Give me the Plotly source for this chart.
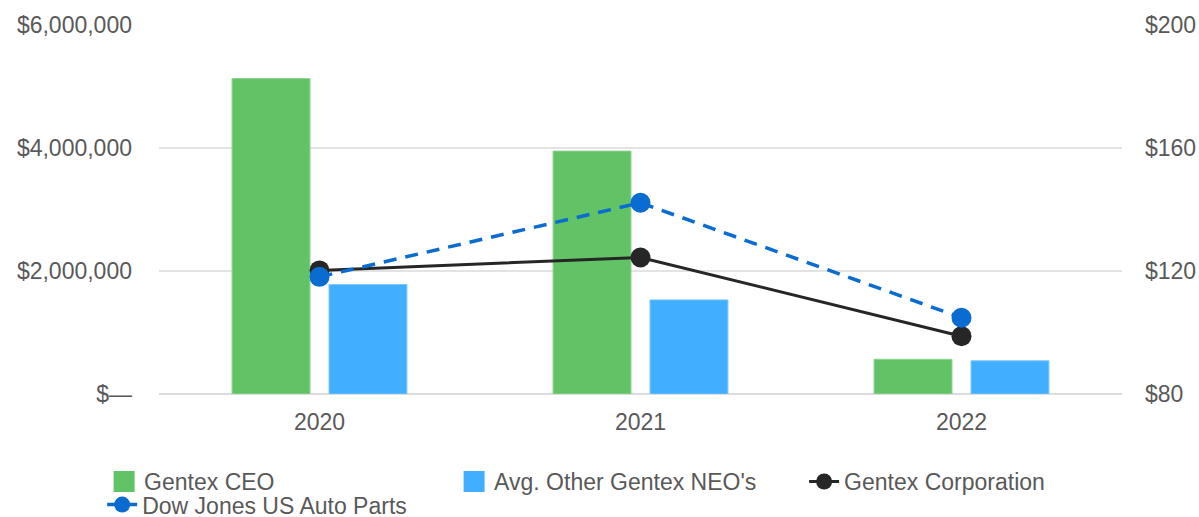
import plotly.graph_objects as go

years = ["2020", "2021", "2022"]
ceo_pay = [5130000, 3950000, 565000]
neo_pay = [1780000, 1530000, 540000]
gentex_tsr = [120.2, 124.4, 98.8]
dowjones_tsr = [118.1, 142.2, 104.8]

left_tickvals = [0, 2000000, 4000000, 6000000]
left_ticktext = ["$—", "$2,000,000", "$4,000,000", "$6,000,000"]
right_tickvals = [80, 120, 160, 200]
right_ticktext = ["$80", "$120", "$160", "$200"]

FONT = "Liberation Sans, Arial, sans-serif"
TXT = "#595959"
FS = 23
GREEN = "#62C366"
BLUE = "#41AEFF"
BLACK = "#262626"
DBLUE = "#0A6BD1"

fig = go.Figure()
fig.add_trace(go.Bar(x=years, y=ceo_pay, name="Gentex CEO", showlegend=False,
                     marker=dict(color=GREEN, line=dict(color="#8fd492", width=1)),
                     yaxis="y"))
fig.add_trace(go.Bar(x=years, y=neo_pay, name="Avg. Other Gentex NEO's", showlegend=False,
                     marker=dict(color=BLUE, line=dict(color="#7cc8ff", width=1)),
                     yaxis="y"))
# legend swatches for the bar series (no marks drawn)
fig.add_trace(go.Scatter(x=[None], y=[None], name="Gentex CEO", mode="markers",
                         marker=dict(symbol="square", color=GREEN, size=22,
                                     line=dict(color=GREEN, width=5)),
                         legend="legend", yaxis="y"))
fig.add_trace(go.Scatter(x=[None], y=[None], name="Avg. Other Gentex NEO's", mode="markers",
                         marker=dict(symbol="square", color=BLUE, size=22,
                                     line=dict(color=BLUE, width=5)),
                         legend="legend", yaxis="y"))
fig.add_trace(go.Scatter(x=years, y=gentex_tsr, name="Gentex Corporation",
                         mode="lines+markers", yaxis="y2", legend="legend",
                         line=dict(color=BLACK, width=3),
                         marker=dict(color=BLACK, size=20)))
fig.add_trace(go.Scatter(x=years, y=dowjones_tsr, name="Dow Jones US Auto Parts",
                         mode="lines+markers", yaxis="y2", legend="legend2",
                         line=dict(color=DBLUE, width=3.5, dash="13px,9px"),
                         marker=dict(color=DBLUE, size=20)))

legend_common = dict(orientation="h", xanchor="left", yanchor="top",
                     entrywidth=305, entrywidthmode="pixels",
                     font=dict(family=FONT, size=FS, color=TXT),
                     traceorder="normal", tracegroupgap=0, bgcolor="rgba(0,0,0,0)")

fig.update_layout(
    width=1199, height=517,
    margin=dict(l=159, r=77, t=25, b=123, autoexpand=False),
    paper_bgcolor="white", plot_bgcolor="white",
    font=dict(family=FONT, size=FS, color=TXT),
    barmode="group", bargap=0.396, bargroupgap=0.196,
    showlegend=True,
    legend=dict(x=-0.057, y=-0.179, **legend_common),
    legend2=dict(x=-0.059, y=-0.2415, **legend_common),
    xaxis=dict(showgrid=False, showline=False, ticks="", ticklabelstandoff=12,
               automargin=False, tickfont=dict(size=FS, color=TXT)),
    yaxis=dict(range=[0, 6000000], tickvals=left_tickvals, ticktext=left_ticktext,
               showgrid=True, gridcolor="#e3e3e3", gridwidth=1.5,
               zeroline=True, zerolinecolor="#dcdcdc", zerolinewidth=1.5,
               showline=False, ticklabelstandoff=26, automargin=False,
               tickfont=dict(size=FS, color=TXT)),
    yaxis2=dict(range=[80, 200], tickvals=right_tickvals, ticktext=right_ticktext,
                overlaying="y", side="right", showgrid=False, zeroline=False,
                showline=False, ticklabelstandoff=22, automargin=False,
                tickfont=dict(size=FS, color=TXT)),
)

fig.write_html("out.html", config={"displayModeBar": False},
               post_script="document.body.style.margin='0';document.body.style.overflow='hidden';")
